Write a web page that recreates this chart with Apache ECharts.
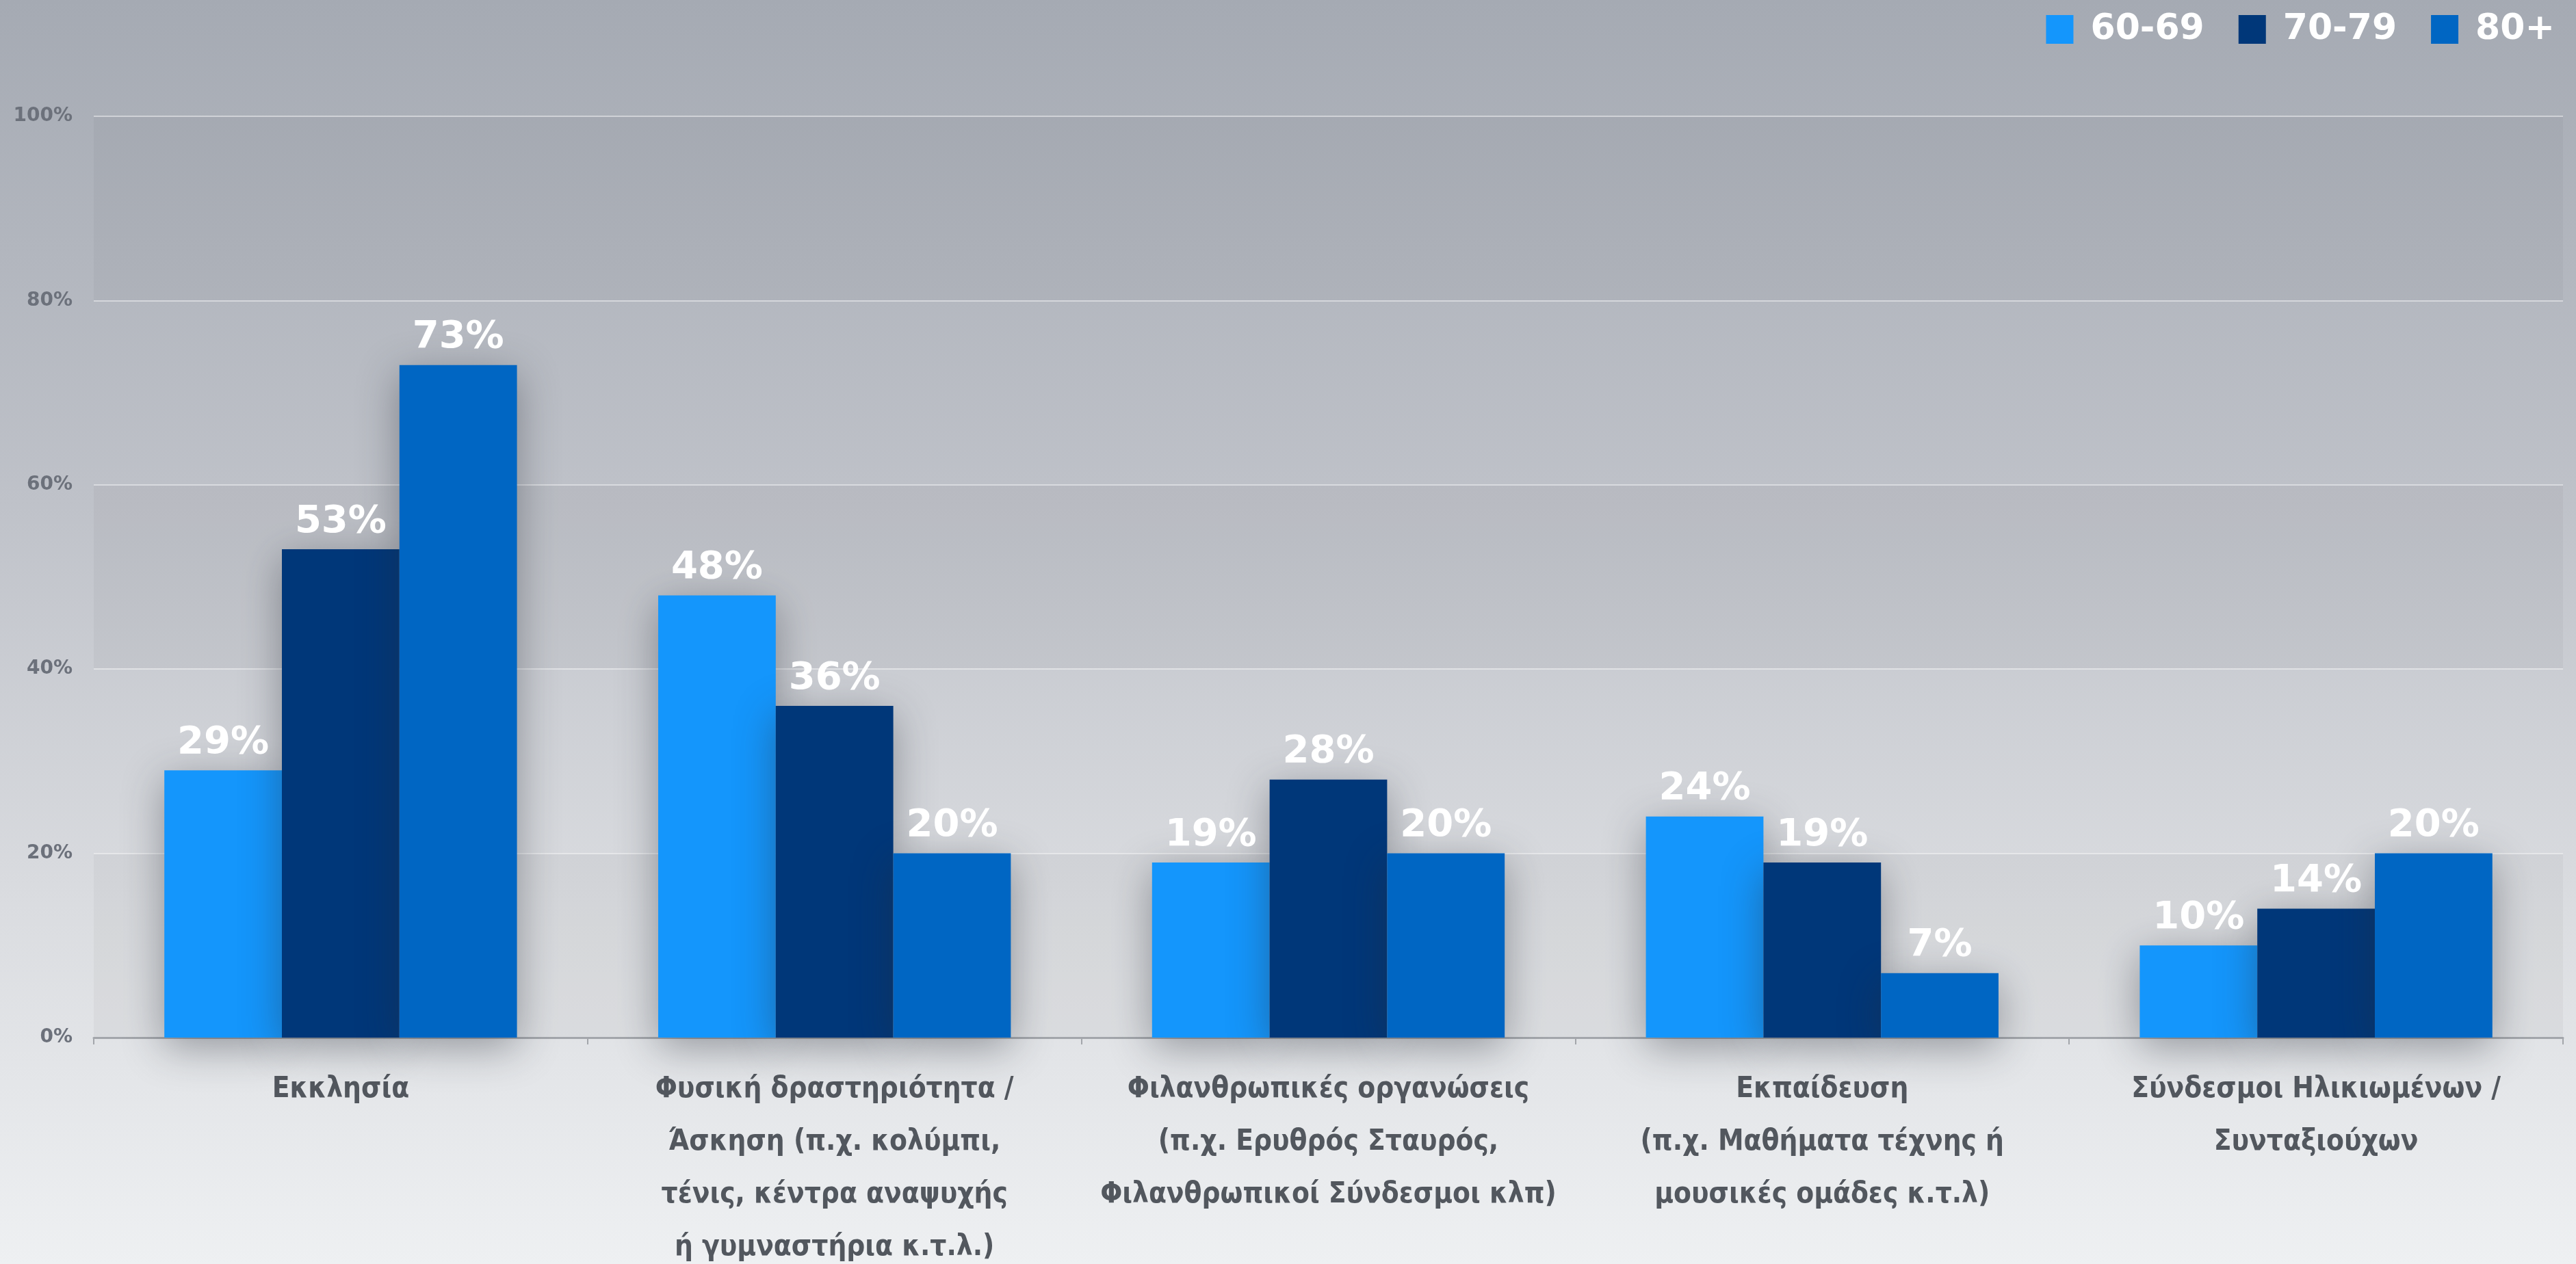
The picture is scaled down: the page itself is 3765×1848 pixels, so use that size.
<!DOCTYPE html>
<html>
<head>
<meta charset="utf-8">
<script src="https://cdn.jsdelivr.net/npm/echarts@6/dist/echarts.min.js"></script>
<style>
html,body{margin:0;padding:0;width:3765px;height:1848px;overflow:hidden;}
body{background:linear-gradient(to bottom,#a5aab3 0%,#bfc2c9 40%,#d9dbdf 70%,#eef0f2 100%);}
#chart{width:3765px;height:1848px;}
</style>
</head>
<body>
<div id="chart"></div>
<script>
const categories = [
  'Εκκλησία',
  'Φυσική δραστηριότητα /\nΆσκηση (π.χ. κολύμπι,\nτένις, κέντρα αναψυχής\nή γυμναστήρια κ.τ.λ.)',
  'Φιλανθρωπικές οργανώσεις\n(π.χ. Ερυθρός Σταυρός,\nΦιλανθρωπικοί Σύνδεσμοι κλπ)',
  'Εκπαίδευση\n(π.χ. Μαθήματα τέχνης ή\nμουσικές ομάδες κ.τ.λ)',
  'Σύνδεσμοι Ηλικιωμένων /\nΣυνταξιούχων'
];
const seriesNames = ['60-69', '70-79', '80+'];
const values6069 = [29, 48, 19, 24, 10];
const values7079 = [53, 36, 28, 19, 14];
const values80 = [73, 20, 20, 7, 20];
const yTicks = [0, 20, 40, 60, 80, 100];

const colors = ['#1496fc', '#003779', '#0066c3'];
const seriesValues = [values6069, values7079, values80];

const chart = echarts.init(document.getElementById('chart'), null, {renderer: 'canvas'});

const series = seriesNames.map((name, i) => ({
  name: name,
  type: 'bar',
  data: seriesValues[i],
  barGap: '0%',
  barCategoryGap: '28.6%',
  itemStyle: {
    color: colors[i],
    shadowColor: 'rgba(40,45,55,0.42)',
    shadowBlur: 60,
    shadowOffsetY: 14
  },
  label: {
    show: true,
    position: 'top',
    distance: 12,
    formatter: '{c}%',
    color: '#ffffff',
    fontFamily: "'DejaVu Sans', sans-serif",
    fontWeight: 'bold',
    fontSize: 56
  }
}));

chart.setOption({
  backgroundColor: 'transparent',
  animation: false,
  color: colors,
  legend: {
    data: seriesNames,
    top: 12,
    right: 26,
    itemWidth: 40,
    itemHeight: 42,
    itemGap: 50,
    icon: 'rect',
    formatter: '{a|{name}}',
    textStyle: {
      color: '#ffffff',
      fontFamily: "'DejaVu Sans', sans-serif",
      fontWeight: 'bold',
      fontSize: 52,
      rich: {
        a: {
          color: '#ffffff',
          fontFamily: "'DejaVu Sans', sans-serif",
          fontWeight: 'bold',
          fontSize: 52,
          padding: [0, 0, 0, 20]
        }
      }
    }
  },
  grid: {
    left: 137,
    right: 19,
    top: 170,
    bottom: 331,
    containLabel: false,
    outerBoundsMode: 'none'
  },
  xAxis: {
    type: 'category',
    data: categories,
    axisLine: {show: true, lineStyle: {color: '#a3a6ab', width: 3}},
    axisTick: {show: true, length: 10, lineStyle: {color: '#a3a6ab', width: 2}},
    axisLabel: {
      interval: 0,
      margin: 38,
      color: '#52575e',
      fontFamily: "'DejaVu Sans Condensed', 'Liberation Sans Narrow', 'Noto Sans', sans-serif",
      fontWeight: 'bold',
      fontSize: 42,
      lineHeight: 77
    }
  },
  yAxis: {
    type: 'value',
    min: yTicks[0],
    max: yTicks[yTicks.length - 1],
    interval: 20,
    axisLine: {show: false},
    axisTick: {show: false},
    axisLabel: {
      formatter: '{value}%',
      margin: 31,
      color: '#6c717b',
      fontFamily: "'DejaVu Sans', sans-serif",
      fontWeight: 'bold',
      fontSize: 28
    },
    splitLine: {show: true, lineStyle: {color: 'rgba(255,255,255,0.45)', width: 2}},
    splitArea: {show: true, areaStyle: {color: ['rgba(0,0,0,0.03)', 'rgba(0,0,0,0)']}}
  },
  series: series
});
</script>
</body>
</html>
